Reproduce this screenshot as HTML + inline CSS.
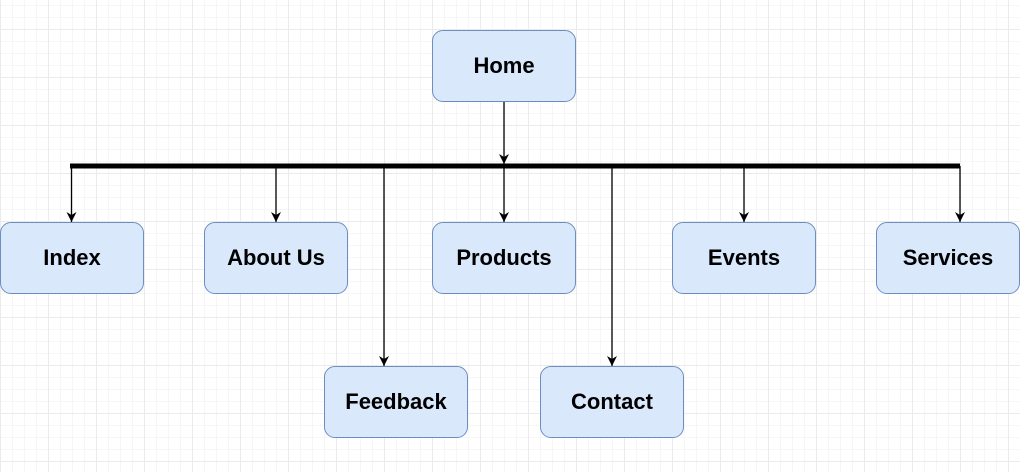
<!DOCTYPE html>
<html><head><style>
html,body{margin:0;padding:0}
body{width:1020px;height:472px;position:relative;overflow:hidden;background-color:#fff;
background-image:
linear-gradient(#ebebeb 1px,transparent 1px),linear-gradient(90deg,#ebebeb 1px,transparent 1px),
linear-gradient(#f6f6f6 1px,transparent 1px),linear-gradient(90deg,#f6f6f6 1px,transparent 1px);
background-size:48px 48px,48px 48px,12px 12px,12px 12px;
background-position:0 29px,0 0,0 5px,0 0;}
.n{position:absolute;width:142px;height:70px;background:#dae8fc;border:1px solid #6c8ebf;border-radius:11px;
display:flex;align-items:center;justify-content:center;font:bold 22px "Liberation Sans",sans-serif;color:#000;box-sizing:content-box}
svg{position:absolute;left:0;top:0}
</style></head><body>
<svg width="1020" height="472">
<defs><marker id="a" markerWidth="12" markerHeight="12" refX="10" refY="5" orient="auto" markerUnits="userSpaceOnUse">
<path d="M0,0 L10,5 L0,10 L3,5 Z" fill="#000"/></marker></defs>
<g stroke="#000" stroke-width="1.3" fill="none">
<line x1="504" y1="102" x2="504" y2="164" marker-end="url(#a)"/>
<line x1="71.5" y1="166" x2="71.5" y2="222" marker-end="url(#a)"/>
<line x1="276" y1="166" x2="276" y2="222" marker-end="url(#a)"/>
<line x1="384" y1="166" x2="384" y2="366" marker-end="url(#a)"/>
<line x1="504" y1="166" x2="504" y2="222" marker-end="url(#a)"/>
<line x1="612" y1="166" x2="612" y2="366" marker-end="url(#a)"/>
<line x1="744" y1="166" x2="744" y2="222" marker-end="url(#a)"/>
<line x1="960" y1="166" x2="960" y2="222" marker-end="url(#a)"/>
</g>
<line x1="70" y1="166" x2="960" y2="166" stroke="#000" stroke-width="5"/>
</svg>
<div class="n" style="left:432px;top:30px">Home</div>
<div class="n" style="left:0px;top:222px">Index</div>
<div class="n" style="left:204px;top:222px">About Us</div>
<div class="n" style="left:432px;top:222px">Products</div>
<div class="n" style="left:672px;top:222px">Events</div>
<div class="n" style="left:876px;top:222px">Services</div>
<div class="n" style="left:324px;top:366px">Feedback</div>
<div class="n" style="left:540px;top:366px">Contact</div>
</body></html>
